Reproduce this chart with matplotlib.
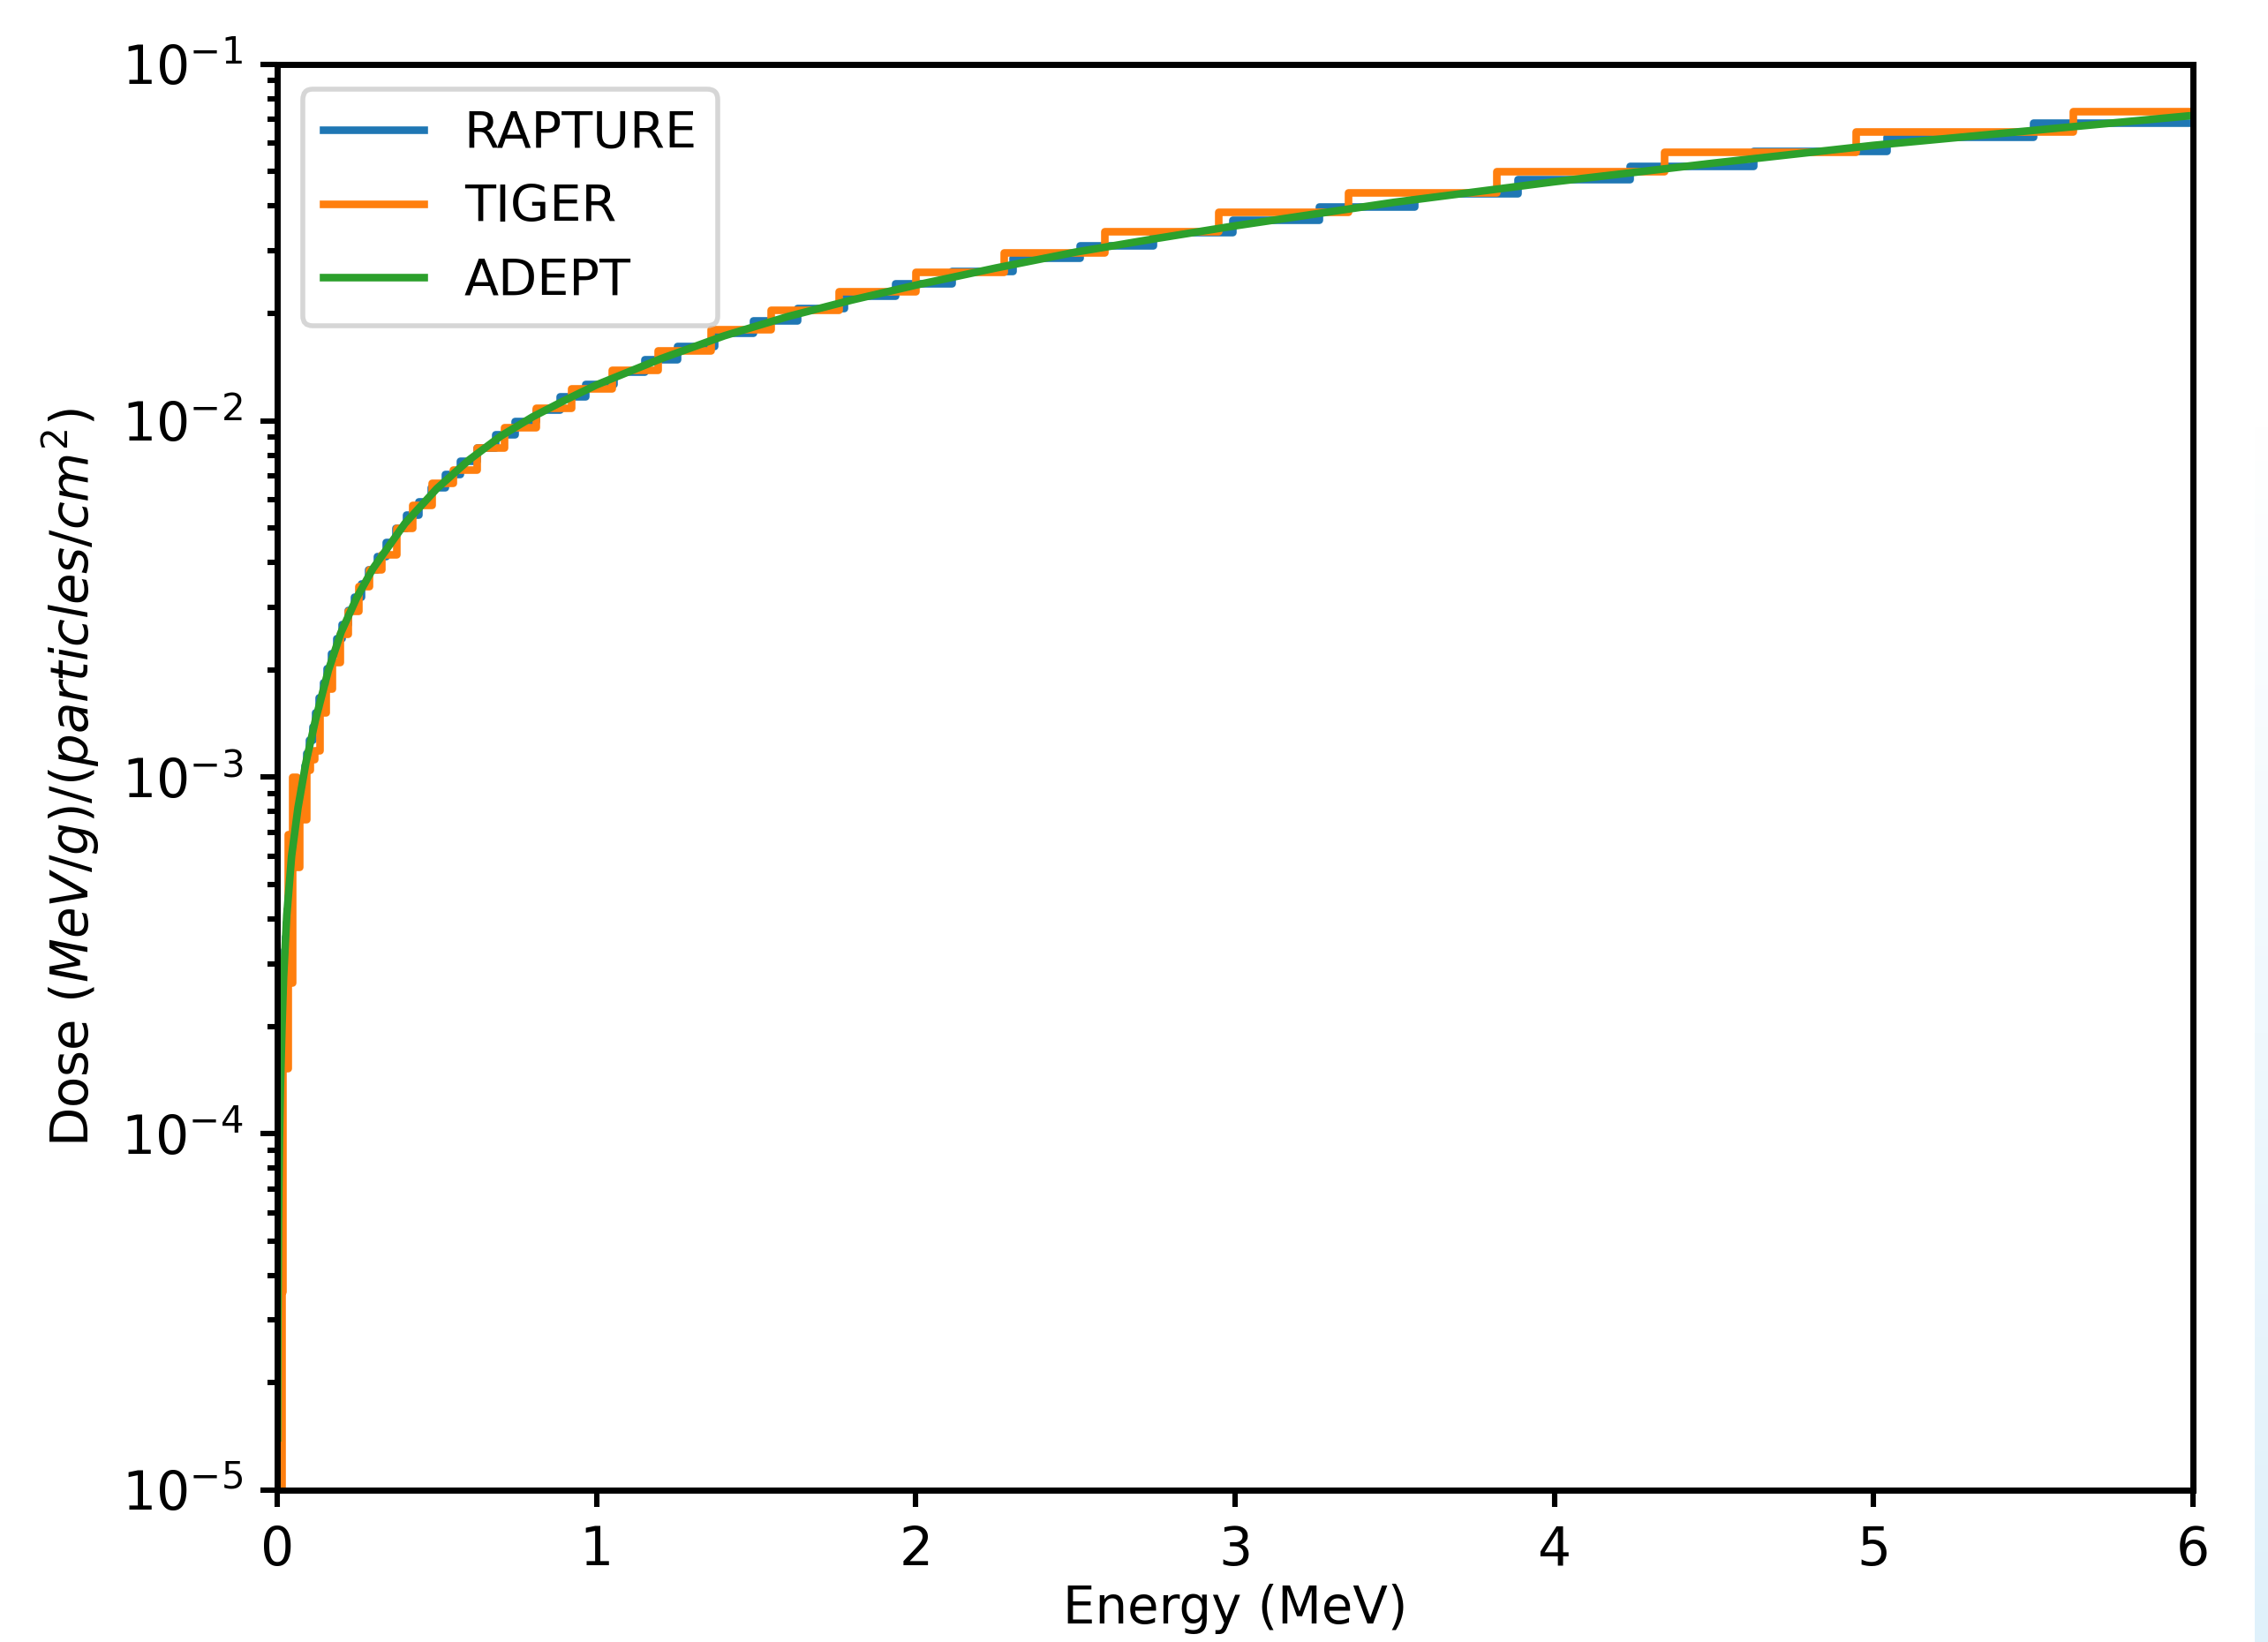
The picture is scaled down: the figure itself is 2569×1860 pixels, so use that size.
import numpy as np
import matplotlib
matplotlib.use("Agg")
import matplotlib.pyplot as plt

# ---------------- data ----------------
adept_energy = [0.001, 0.002, 0.004, 0.007, 0.01, 0.015, 0.02, 0.03, 0.045, 0.065,
                0.09, 0.12, 0.16, 0.2, 0.25, 0.3, 0.4, 0.5, 0.6, 0.7,
                0.8, 0.9, 1.0, 1.2, 1.4, 1.6, 1.8, 2.0, 2.25, 2.5,
                2.75, 3.0, 3.5, 4.0, 4.5, 5.0, 5.5, 6.0]
adept_dose = [1.4e-5, 2.8e-5, 5.6e-5, 9.6e-5, 1.35e-4, 2.0e-4, 2.75e-4, 4.1e-4, 6.0e-4, 8.2e-4,
              1.10e-3, 1.45e-3, 1.99e-3, 2.55e-3, 3.2e-3, 3.85e-3, 5.15e-3, 6.45e-3, 7.75e-3, 9.05e-3,
              1.025e-2, 1.14e-2, 1.26e-2, 1.49e-2, 1.73e-2, 1.96e-2, 2.18e-2, 2.40e-2, 2.68e-2, 2.97e-2,
              3.24e-2, 3.52e-2, 4.10e-2, 4.68e-2, 5.28e-2, 5.92e-2, 6.52e-2, 7.18e-2]

rapture_edges = [0.01048, 0.01143, 0.01247, 0.01360, 0.01484, 0.01619, 0.01766, 0.01926, 0.02101, 0.02292,
                 0.02501, 0.02728, 0.02976, 0.03246, 0.03541, 0.03863, 0.04214, 0.04597, 0.05015, 0.05471,
                 0.05968, 0.06511, 0.07102, 0.07748, 0.08452, 0.09220, 0.10058, 0.10972, 0.11969, 0.13057,
                 0.14244, 0.15538, 0.16950, 0.18491, 0.20172, 0.22005, 0.24005, 0.26187, 0.28567, 0.31163,
                 0.33995, 0.37085, 0.40456, 0.44133, 0.48144, 0.52519, 0.57293, 0.62500, 0.68180, 0.74377,
                 0.81137, 0.88511, 0.96554, 1.0533, 1.1490, 1.2534, 1.3674, 1.4916, 1.6272, 1.7751,
                 1.9365, 2.1125, 2.3045, 2.5140, 2.7425, 2.9917, 3.2636, 3.5602, 3.8838, 4.2367,
                 4.6218, 5.0419, 5.5001, 6.0000]
rapture_dose = [1.49e-4, 1.63e-4, 1.76e-4, 1.90e-4, 2.07e-4, 2.27e-4, 2.49e-4, 2.76e-4, 3.00e-4, 3.28e-4,
                3.58e-4, 3.90e-4, 4.26e-4, 4.63e-4, 5.05e-4, 5.48e-4, 5.87e-4, 6.35e-4, 6.80e-4, 7.30e-4,
                7.90e-4, 8.55e-4, 9.20e-4, 9.95e-4, 1.08e-3, 1.17e-3, 1.27e-3, 1.39e-3, 1.52e-3, 1.67e-3,
                1.84e-3, 2.02e-3, 2.22e-3, 2.45e-3, 2.69e-3, 2.94e-3, 3.21e-3, 3.50e-3, 3.83e-3, 4.18e-3,
                4.57e-3, 4.99e-3, 5.45e-3, 5.95e-3, 6.49e-3, 7.08e-3, 7.72e-3, 8.42e-3, 9.18e-3, 9.96e-3,
                1.077e-2, 1.17e-2, 1.27e-2, 1.37e-2, 1.49e-2, 1.62e-2, 1.765e-2, 1.91e-2, 2.07e-2, 2.24e-2,
                2.43e-2, 2.63e-2, 2.86e-2, 3.11e-2, 3.37e-2, 3.66e-2, 3.99e-2, 4.35e-2, 4.75e-2, 5.19e-2,
                5.71e-2, 6.24e-2, 6.85e-2]

tiger_edges = [0.01000, 0.01138, 0.01295, 0.01474, 0.01677, 0.01908, 0.02171, 0.02471, 0.02812, 0.03200,
               0.03641, 0.04143, 0.04715, 0.05366, 0.06106, 0.06948, 0.07907, 0.08997, 0.10239, 0.11651,
               0.13258, 0.15087, 0.17169, 0.19537, 0.22233, 0.25300, 0.28790, 0.32762, 0.37281, 0.42424,
               0.48277, 0.54937, 0.62516, 0.71140, 0.80954, 0.92123, 1.04832, 1.19293, 1.35751, 1.54478,
               1.75789, 2.00040, 2.27636, 2.59039, 2.94774, 3.35440, 3.81715, 4.34373, 4.94295, 5.62487,
               6.40087]
tiger_dose = [5e-6, 5e-6, 5e-6, 3.6e-5, 2.8e-4, 2.0e-4, 1.53e-4, 1.53e-4, 1.53e-4, 6.9e-4,
              4.5e-4, 2.65e-4, 1.0e-3, 1.0e-3, 5.6e-4, 8.6e-4, 7.6e-4, 1.05e-3, 1.12e-3, 1.19e-3,
              1.52e-3, 1.77e-3, 2.10e-3, 2.52e-3, 2.93e-3, 3.43e-3, 3.83e-3, 4.22e-3, 5.01e-3, 5.79e-3,
              6.70e-3, 7.30e-3, 8.40e-3, 9.60e-3, 1.089e-2, 1.232e-2, 1.39e-2, 1.578e-2, 1.80e-2, 2.04e-2,
              2.31e-2, 2.62e-2, 2.97e-2, 3.40e-2, 3.85e-2, 4.36e-2, 5.00e-2, 5.69e-2, 6.47e-2, 7.38e-2]

labels = ["RAPTURE", "TIGER", "ADEPT"]
x_ticks = [0, 1, 2, 3, 4, 5, 6]

# ---------------- figure ----------------
W, H, DPI = 2569, 1860, 400
fig = plt.figure(figsize=(W / DPI, H / DPI), dpi=DPI)
ax = fig.add_axes([314 / W, 1 - 1688 / H, (2484 - 314) / W, (1688 - 72.7) / H])

ax.step(rapture_edges, rapture_dose + [rapture_dose[-1]], where="post",
        color="C0", lw=1.55, label=labels[0])
ax.step(tiger_edges, tiger_dose + [tiger_dose[-1]], where="post",
        color="C1", lw=1.55, label=labels[1])
ax.plot(adept_energy, adept_dose, color="C2", lw=1.55, label=labels[2])

ax.set_yscale("log")
ax.set_xlim(0, 6)
ax.set_ylim(1e-5, 1e-1)
ax.set_xticks(x_ticks)
for s in ax.spines.values():
    s.set_linewidth(1.25)
ax.tick_params(which="both", width=1.1, labelsize=10.8)

ax.set_xlabel("Energy (MeV)", fontsize=10.4, labelpad=1.5)
ax.set_ylabel(r"Dose $(MeV/g)/(particles/cm^2)$", fontsize=10.4)
ax.legend(loc="upper left", fontsize=10.3)

# faint light-blue screenshot strip at the right edge
strip = fig.add_axes([2554 / W, 0, 15 / W, 1 - 480 / H])
grad = np.linspace(0, 1, 256)[:, None]
strip.imshow(grad, aspect="auto", cmap=matplotlib.colors.LinearSegmentedColormap.from_list(
    "s", ["#dff1fb", "#ffffff"]), extent=[0, 1, 0, 1], origin="lower")
strip.set_axis_off()

fig.savefig("out.png", dpi=DPI)
